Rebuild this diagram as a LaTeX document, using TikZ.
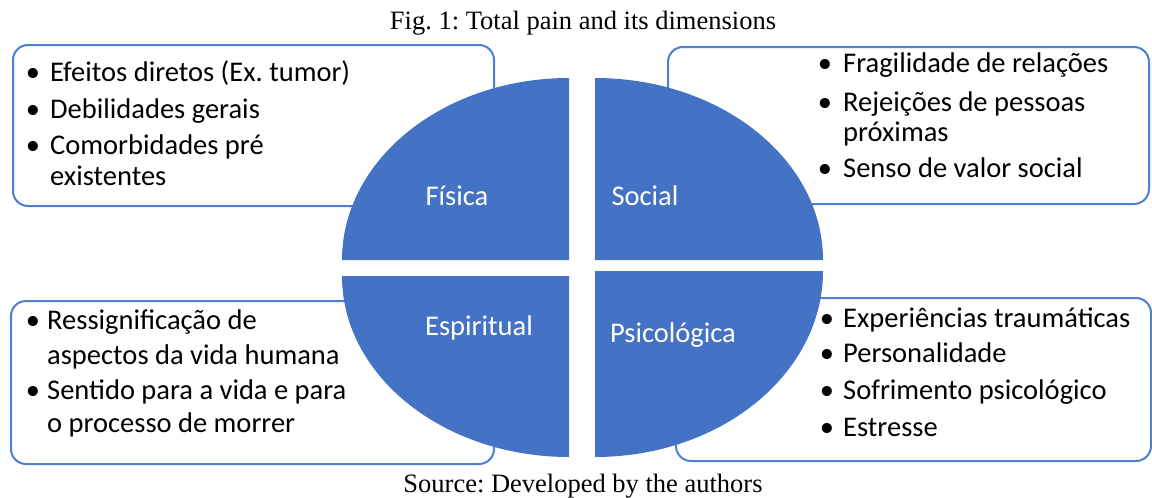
\documentclass[tikz,border=0pt]{standalone}
\usepackage{fontspec}
\setmainfont{Carlito}
\newfontfamily\capfont{Liberation Serif}
\definecolor{qblue}{HTML}{4472C4}
\definecolor{lineblue}{HTML}{4F7FD0}
\frenchspacing
\begin{document}
\begin{tikzpicture}[x=1pt,y=-1pt,
  box/.style={draw=lineblue, line width=2pt, rounded corners=15pt, fill=white, inner sep=0pt, anchor=north west},
  quad/.style={fill=qblue},
  txt/.style={anchor=base west, inner sep=0pt, font=\fontsize{28.5}{34}\selectfont, text=black},
  bul/.style={anchor=base, inner sep=0pt, font=\fontsize{28.5}{34}\selectfont, text=black},
  lbl/.style={text=white, inner sep=0pt, font=\fontsize{28.5}{34}\selectfont},
  captxt/.style={anchor=base, inner sep=0pt, font=\capfont\fontsize{26.5}{30}\selectfont}]
\path[use as bounding box] (0,0) rectangle (1152,498);
\fill[white] (0,0) rectangle (1152,498);
% caption
\node[captxt] (title) at (583,29) {Fig. 1: Total pain and its dimensions};
\node[captxt] (source) at (583,492) {Source: Developed by the authors};
% boxes
\node[box, minimum width=481pt, minimum height=161pt] (bTL) at (12,44) {};
\node[box, minimum width=481pt, minimum height=157pt] (bTR) at (667,46) {};
\node[box, minimum width=483pt, minimum height=163pt] (bBL) at (10,300) {};
\node[box, minimum width=475pt, minimum height=163pt] (bBR) at (675,297) {};
% quadrants
\fill[quad] (569,260) -- (342,260) arc[start angle=180, end angle=270, x radius=227, y radius=182] -- cycle;
\fill[quad] (595,260) -- (595,78) arc[start angle=270, end angle=360, x radius=228, y radius=182] -- cycle;
\fill[quad] (595,271) -- (823,271) arc[start angle=0, end angle=90, x radius=228, y radius=186] -- cycle;
\fill[quad] (569,276) -- (569,457) arc[start angle=90, end angle=180, x radius=227, y radius=181] -- cycle;
% labels
\node[lbl] (fis) at (457,196) {Física};
\node[lbl] (soc) at (645,196) {Social};
\node[lbl] (esp) at (479,328) {Espiritual};
\node[lbl] (psi) at (673,335) {Psicológica};
% top-left text
\node[bul] (tlb1) at (33,81) {•};
\node[txt] (tl1) at (50,81) {Efeitos diretos (Ex. tumor)};
\node[bul] (tlb2) at (33,118) {•};
\node[txt] (tl2) at (50,118) {Debilidades gerais};
\node[bul] (tlb3) at (33,154) {•};
\node[txt] (tl3) at (50,154) {Comorbidades pré};
\node[txt] (tl4) at (50,185) {existentes};
% top-right text
\node[bul] (trb1) at (825,72) {•};
\node[txt] (tr1) at (843,72) {Fragilidade de relações};
\node[bul] (trb2) at (825,111) {•};
\node[txt] (tr2) at (843,111) {Rejeições de pessoas};
\node[txt] (tr3) at (843,141) {próximas};
\node[bul] (trb3) at (825,177) {•};
\node[txt] (tr4) at (843,177) {Senso de valor social};
% bottom-left text
\node[bul] (blb1) at (33,329) {•};
\node[txt] (bl1) at (47,329) {Ressignificação de};
\node[txt] (bl2) at (47,364) {aspectos da vida humana};
\node[bul] (blb2) at (33,399) {•};
\node[txt] (bl3) at (47,399) {Sentido para a vida e para};
\node[txt] (bl4) at (47,432) {o processo de morrer};
% bottom-right text
\node[bul] (brb1) at (827,327) {•};
\node[txt] (br1) at (843,327) {Experiências traumáticas};
\node[bul] (brb2) at (827,362) {•};
\node[txt] (br2) at (843,362) {Personalidade};
\node[bul] (brb3) at (827,399) {•};
\node[txt] (br3) at (843,399) {Sofrimento psicológico};
\node[bul] (brb4) at (827,436) {•};
\node[txt] (br4) at (843,436) {Estresse};
\end{tikzpicture}
\end{document}
